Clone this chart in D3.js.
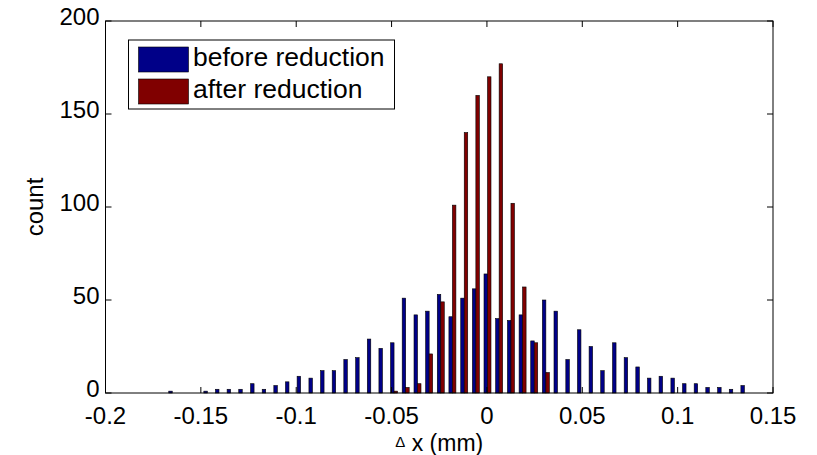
<!DOCTYPE html>
<html>
<head>
<meta charset="utf-8">
<script src="https://cdn.jsdelivr.net/npm/d3@7"></script>
<style>
  body { margin: 0; background: #fff; }
  svg text { font-family: "Liberation Sans", Arial, sans-serif; fill: #000; }
</style>
</head>
<body>
<div id="chart"></div>
<script>
// histogram bin centres (mm)
const binCenters = [-0.1650, -0.1589, -0.1528, -0.1466, -0.1405, -0.1344, -0.1283, -0.1221, -0.1160, -0.1099,
  -0.1038, -0.0977, -0.0915, -0.0854, -0.0793, -0.0732, -0.0670, -0.0609, -0.0548, -0.0487,
  -0.0426, -0.0364, -0.0303, -0.0242, -0.0181, -0.0119, -0.0058, 0.0003, 0.0064, 0.0126,
  0.0187, 0.0248, 0.0309, 0.0370, 0.0432, 0.0493, 0.0554, 0.0615, 0.0677, 0.0738,
  0.0799, 0.0860, 0.0921, 0.0983, 0.1044, 0.1105, 0.1166, 0.1228, 0.1289, 0.1350];

// counts
const beforeCounts = [1, 0, 0, 1, 2, 2, 2, 5, 2, 4,
  6, 9, 8, 12, 12, 18, 19, 29, 24, 27,
  51, 42, 44, 53, 41, 51, 56, 64, 40, 39,
  42, 28, 50, 44, 18, 34, 25, 12, 27, 19,
  14, 8, 9, 8, 5, 5, 3, 3, 2, 4];
const afterCounts = [0, 0, 0, 0, 0, 0, 0, 0, 0, 0,
  0, 0, 0, 0, 0, 0, 0, 0, 0, 1,
  3, 5, 21, 49, 101, 140, 160, 170, 177, 102,
  57, 27, 11, 0, 0, 0, 0, 0, 0, 0,
  0, 0, 0, 0, 0, 0, 0, 0, 0, 0];

const seriesNames = ['before reduction', 'after reduction'];
const seriesColors = ['#000088', '#800000'];

const xTicks = [-0.2, -0.15, -0.1, -0.05, 0, 0.05, 0.1, 0.15];
const yTicks = [0, 50, 100, 150, 200];

const W = 817, H = 455;
const plot = { left: 105.5, right: 773, top: 21, bottom: 393 };

const svg = d3.select('#chart').append('svg')
  .attr('width', W).attr('height', H);

const x = d3.scaleLinear().domain([-0.2, 0.15]).range([plot.left, plot.right]);
const y = d3.scaleLinear().domain([0, 200]).range([plot.bottom, plot.top]);

// grouped bars
const step = binCenters[1] - binCenters[0];
const barW = x(step * 0.3) - x(0);
const series = [beforeCounts, afterCounts];
series.forEach((vals, s) => {
  const off = (s === 0 ? -1 : 1) * barW / 2;
  svg.append('g').selectAll('rect')
    .data(vals.map((v, i) => ({ c: binCenters[i], v })))
    .enter().filter(d => d.v > 0).append('rect')
    .attr('x', d => x(d.c) + off - barW / 2)
    .attr('width', barW)
    .attr('y', d => y(d.v))
    .attr('height', d => y(0) - y(d.v))
    .attr('fill', seriesColors[s])
    .attr('stroke', '#000')
    .attr('stroke-width', 0.6);
});

// axes box
svg.append('rect')
  .attr('x', plot.left).attr('y', plot.top)
  .attr('width', plot.right - plot.left).attr('height', plot.bottom - plot.top)
  .attr('fill', 'none').attr('stroke', '#000').attr('stroke-width', 1);

const tk = 6;
const ax = svg.append('g').attr('stroke', '#000').attr('stroke-width', 1);
xTicks.forEach(t => {
  ax.append('line').attr('x1', x(t)).attr('x2', x(t)).attr('y1', plot.bottom).attr('y2', plot.bottom - tk);
  ax.append('line').attr('x1', x(t)).attr('x2', x(t)).attr('y1', plot.top).attr('y2', plot.top + tk);
});
yTicks.forEach(t => {
  ax.append('line').attr('x1', plot.left).attr('x2', plot.left + tk).attr('y1', y(t)).attr('y2', y(t));
  ax.append('line').attr('x1', plot.right).attr('x2', plot.right - tk).attr('y1', y(t)).attr('y2', y(t));
});

svg.append('g').selectAll('text').data(xTicks).enter().append('text')
  .attr('x', d => x(d)).attr('y', plot.bottom + 31)
  .attr('text-anchor', 'middle').style('font-size', '24px')
  .text(d => String(d));

svg.append('g').selectAll('text').data(yTicks).enter().append('text')
  .attr('x', plot.left - 6).attr('y', d => y(d) + 4)
  .attr('text-anchor', 'end').style('font-size', '24px')
  .text(d => d);

// axis labels
const xl = svg.append('text')
  .attr('x', (plot.left + plot.right) / 2).attr('y', plot.bottom + 58)
  .attr('text-anchor', 'middle').style('font-size', '23px');
xl.append('tspan').style('font-size', '15px').attr('dy', -4).text('Δ');
xl.append('tspan').attr('dy', 4).text(' x (mm)');

svg.append('text')
  .attr('transform', `translate(43,${(plot.top + plot.bottom) / 2}) rotate(-90)`)
  .attr('text-anchor', 'middle').style('font-size', '24px')
  .text('count');

// legend
const lg = svg.append('g');
lg.append('rect')
  .attr('x', 128.5).attr('y', 40).attr('width', 266).attr('height', 69)
  .attr('fill', '#fff').attr('stroke', '#000').attr('stroke-width', 1);
seriesNames.forEach((n, i) => {
  lg.append('rect')
    .attr('x', 138.5).attr('y', 47 + i * 32).attr('width', 50).attr('height', 25)
    .attr('fill', seriesColors[i]).attr('stroke', '#000').attr('stroke-width', 0.6);
  lg.append('text')
    .attr('x', 193).attr('y', 66 + i * 32)
    .style('font-size', '26.5px')
    .text(n);
});
</script>
</body>
</html>
